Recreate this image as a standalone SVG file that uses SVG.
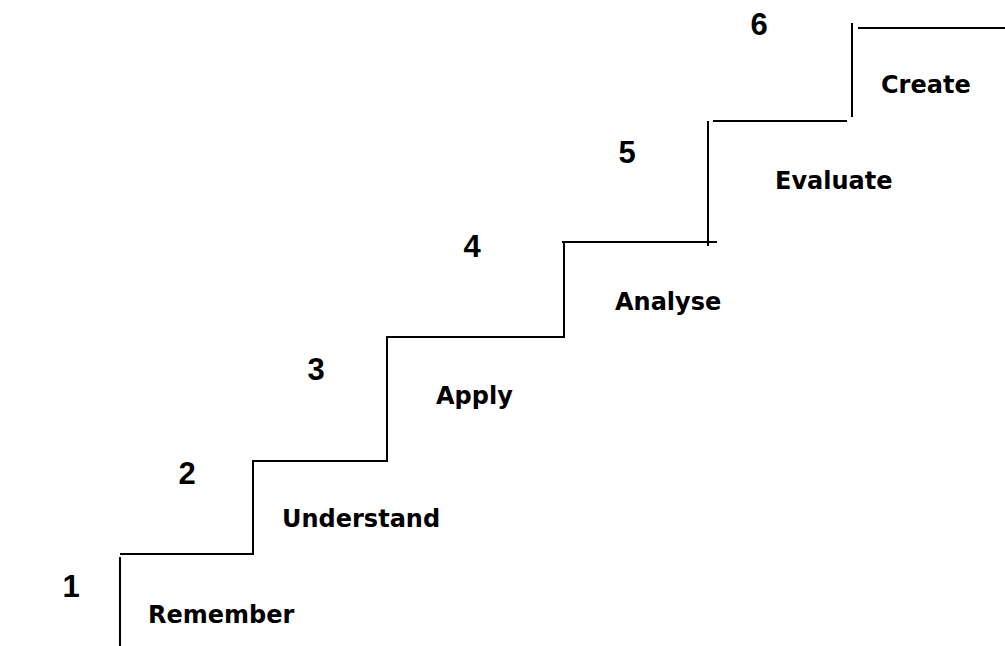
<svg xmlns="http://www.w3.org/2000/svg" width="1005" height="646" viewBox="0 0 1005 646">
  <style>
    .ln { fill: none; stroke: #000; stroke-width: 2; }
    .num { font-family: "Liberation Sans", Arial, sans-serif; font-weight: bold; font-size: 31px; fill: #000; text-anchor: middle; }
    .lbl { font-family: "DejaVu Sans", Verdana, sans-serif; font-weight: bold; font-size: 24px; fill: #000; }
  </style>
  <rect x="0" y="0" width="1005" height="646" fill="#fff"/>
  <g id="connectors">
    <path class="ln" d="M120 557 V646"/>
    <path class="ln" d="M120 554 H253 V461 H387 V337 H564 V242"/>
    <path class="ln" d="M562 242 H717"/>
    <path class="ln" d="M708 121 V246"/>
    <path class="ln" d="M713 121 H847"/>
    <path class="ln" d="M852 23 V117"/>
    <path class="ln" d="M858 28 H1005"/>
  </g>
  <g id="step1">
    <text class="num" x="71" y="597">1</text>
    <text class="lbl" x="148" y="623">Remember</text>
  </g>
  <g id="step2">
    <text class="num" x="187" y="484">2</text>
    <text class="lbl" x="282" y="527">Understand</text>
  </g>
  <g id="step3">
    <text class="num" x="316" y="380">3</text>
    <text class="lbl" x="436" y="404">Apply</text>
  </g>
  <g id="step4">
    <text class="num" x="472" y="257">4</text>
    <text class="lbl" x="615" y="310">Analyse</text>
  </g>
  <g id="step5">
    <text class="num" x="627" y="163">5</text>
    <text class="lbl" x="775" y="189">Evaluate</text>
  </g>
  <g id="step6">
    <text class="num" x="759" y="35">6</text>
    <text class="lbl" x="881" y="93">Create</text>
  </g>
</svg>
